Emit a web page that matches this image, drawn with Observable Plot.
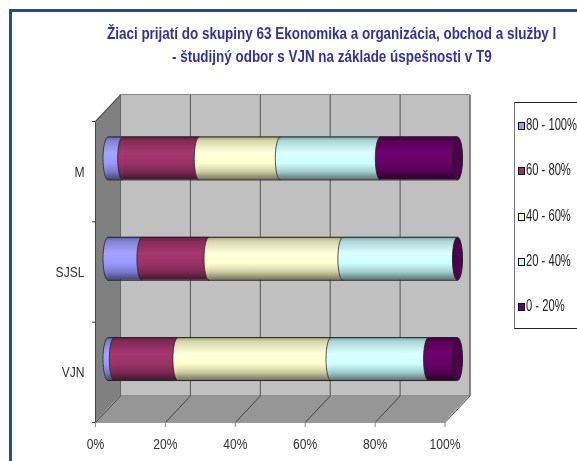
<!DOCTYPE html>
<html>
<head>
<meta charset="utf-8">
<script src="https://cdn.jsdelivr.net/npm/d3@7"></script>
<script src="https://cdn.jsdelivr.net/npm/@observablehq/plot@0.6"></script>
<style>
html,body{margin:0;padding:0;background:#fff;overflow:hidden}
#page{position:relative;width:577px;height:461px;overflow:hidden;font-family:"Liberation Sans",Arial,sans-serif;filter:blur(0.35px)}
#frame{position:absolute;left:9px;top:9px;width:700px;height:600px;border:3px solid #1f4f8f;box-sizing:border-box}
.tl{position:absolute;white-space:nowrap;color:#333399;font-weight:bold;font-size:16px;line-height:24px;transform-origin:0 50%}
#legend{position:absolute;left:514px;top:102px;width:100px;height:227px;border:1px solid #222;border-left-color:#777;box-sizing:border-box;background:#fff}
.row{position:absolute;left:3px;color:#222;font-size:16px;line-height:16px;white-space:nowrap}
.sw{position:absolute;left:0;top:5px;width:5px;height:6px;border:1px solid #111;box-sizing:content-box}
.lt{position:absolute;left:8px;top:0;transform-origin:0 50%;transform:scaleX(.7)}
svg{position:absolute;left:0;top:0}
</style>
</head>
<body>
<div id="page">
  <div id="frame"></div>
  <div id="chart"></div>
  <div id="title"></div>
  <div id="legend"></div>
</div>
<script>
const titleLines = ["Žiaci prijatí do skupiny 63 Ekonomika a organizácia, obchod a služby I", "- študijný odbor s VJN na základe úspešnosti v T9"];
const categories = ["VJN", "SJSL", "M"];
const seriesNames = ["80 - 100%", "60 - 80%", "40 - 60%", "20 - 40%", "0 - 20%"];
const seriesColors = ["#9999ff", "#993366", "#ffffcc", "#ccffff", "#660066"];
const values8090 = [1.8, 9.7, 4.2];
const values6080 = [18.2, 19.2, 21.9];
const values4060 = [43.8, 38.3, 23.2];
const values2040 = [27.9, 32.8, 28.6];
const values0020 = [8.3, 0, 22.1];
const seriesValues = [values8090, values6080, values4060, values2040, values0020];
const xTicks = [0, 20, 40, 60, 80, 100];

// depth of the 3-D box, in data units of each axis
const depthX = 7.16, depthY = 0.264, barHalf = 0.214;
const midX = depthX / 2, midY = depthY / 2;

// segments, stacked per category
const segments = seriesNames.map((name, s) => categories.map((c, i) => {
  const start = d3.sum(seriesValues.slice(0, s), v => v[i]);
  return {i, name, x1: start + midX, x2: start + seriesValues[s][i] + midX,
          y: i + 0.5 + midY, y1: i + 0.5 + midY - barHalf, y2: i + 0.5 + midY + barHalf};
}).filter(d => d.x2 > d.x1));

const K = 0.5523, RX = 5, RY = 21.5;
const leftCap = {draw(ctx) {
  ctx.moveTo(0, -RY);
  ctx.bezierCurveTo(-RX * K, -RY, -RX, -RY * K, -RX, 0);
  ctx.bezierCurveTo(-RX, RY * K, -RX * K, RY, 0, RY);
}};
const fullCap = {draw(ctx) {
  ctx.moveTo(0, -RY);
  ctx.bezierCurveTo(-RX * K, -RY, -RX, -RY * K, -RX, 0);
  ctx.bezierCurveTo(-RX, RY * K, -RX * K, RY, 0, RY);
  ctx.bezierCurveTo(RX * K, RY, RX, RY * K, RX, 0);
  ctx.bezierCurveTo(RX, -RY * K, RX * K, -RY, 0, -RY);
  ctx.closePath();
}};

function gradients() {
  const ns = "http://www.w3.org/2000/svg";
  const defs = document.createElementNS(ns, "defs");
  const stops = [[0, .62], [.1, .84], [.38, 1.08], [.62, 1], [.82, .8], [1, .45]];
  seriesColors.forEach((col, s) => {
    const g = document.createElementNS(ns, "linearGradient");
    g.setAttribute("id", "g" + s);
    g.setAttribute("x1", 0); g.setAttribute("y1", 0);
    g.setAttribute("x2", 0); g.setAttribute("y2", 1);
    const base = d3.rgb(col);
    stops.forEach(([o, f]) => {
      const st = document.createElementNS(ns, "stop");
      st.setAttribute("offset", o);
      st.setAttribute("stop-color", d3.rgb(Math.min(255, base.r * f), Math.min(255, base.g * f), Math.min(255, base.b * f)).formatRgb());
      g.appendChild(st);
    });
    defs.appendChild(g);
  });
  return defs;
}

const chart = Plot.plot({
  width: 577, height: 461,
  marginLeft: 95, marginRight: 132.5, marginTop: 121, marginBottom: 39,
  x: {domain: [0, 100]},
  y: {domain: [0, 3]},
  style: {background: "transparent", fontFamily: '"Liberation Sans",Arial,sans-serif'},
  marks: [
    gradients,
    // back wall
    Plot.rect([0], {x1: depthX, x2: 100 + depthX, y1: depthY, y2: 3 + depthY, fill: "#c0c0c0", stroke: "#8a8a8a"}),
    // left wall
    Plot.areaY([{x: 0, a: 0, b: 3}, {x: depthX, a: depthY, b: 3 + depthY}], {x: "x", y1: "a", y2: "b", fill: "#808080"}),
    // floor
    Plot.areaX([{y: 0, a: 0, b: 100}, {y: depthY, a: depthX, b: 100 + depthX}], {y: "y", x1: "a", x2: "b", fill: "#969696"}),
    // grid on back wall and floor
    Plot.link(xTicks.slice(1), {x1: d => d + depthX, x2: d => d + depthX, y1: depthY, y2: 3 + depthY, stroke: "#555", strokeWidth: 1}),
    Plot.link(xTicks, {x1: d => d, x2: d => d + depthX, y1: 0, y2: depthY, stroke: "#444", strokeWidth: 1}),
    Plot.link([0], {x1: 100 + depthX, x2: 100 + depthX, y1: depthY, y2: 3 + depthY, stroke: "#808080", strokeWidth: 1.5}),
    Plot.link([0], {x1: 0, x2: 100, y1: 0, y2: 0, stroke: "#999", strokeWidth: 1}),
    Plot.link([0], {x1: 0, x2: 0, y1: 0, y2: 3, stroke: "#444", strokeWidth: 1}),
    Plot.link([0], {x1: 0, x2: depthX, y1: 3, y2: 3 + depthY, stroke: "#444", strokeWidth: 1}),
    Plot.link([0], {x1: depthX, x2: depthX, y1: depthY, y2: 3 + depthY, stroke: "#666", strokeWidth: 1}),
    // cylinders
    ...segments.flatMap((data, s) => [
      Plot.rect(data, {x1: "x1", x2: "x2", y1: "y1", y2: "y2", fill: `url(#g${s})`}),
      Plot.dot(data, {x: "x1", y: "y", symbol: leftCap, r: 1, fill: `url(#g${s})`, stroke: "#222", strokeOpacity: 0.75, strokeWidth: 1})
    ]),
    Plot.link(categories, {x1: midX, x2: 100 + midX, y1: (d, i) => i + .5 + midY + barHalf, y2: (d, i) => i + .5 + midY + barHalf, stroke: "#222", strokeWidth: 1}),
    Plot.link(categories, {x1: midX, x2: 100 + midX, y1: (d, i) => i + .5 + midY - barHalf, y2: (d, i) => i + .5 + midY - barHalf, stroke: "#222", strokeWidth: 1}),
    Plot.dot(categories, {x: 100 + midX, y: (d, i) => i + .5 + midY, symbol: fullCap, r: 1, fill: "#4d004d", stroke: "#222", strokeWidth: 1}),
    // axes
    Plot.axisX(xTicks, {tickSize: 5, tickPadding: 10, tickFormat: d => d + "%", fontSize: 15.5, stroke: "#888", fill: "#333", label: null}),
    Plot.axisY([0, 1, 2, 3], {tickSize: 3, tickFormat: () => "", stroke: "#333", label: null}),
    Plot.axisY([.5, 1.5, 2.5], {tickSize: 0, tickPadding: 11, tickFormat: d => categories[d - .5], fontSize: 15.5, fill: "#333", label: null})
  ]
});
document.getElementById("chart").appendChild(chart);

// the reference uses a condensed sans: narrow the text without changing its height
chart.querySelectorAll("text").forEach(t => {
  const len = t.getComputedTextLength();
  if (len > 0) {
    t.setAttribute("lengthAdjust", "spacingAndGlyphs");
    t.setAttribute("textLength", len * 0.78);
  }
});

// title lines, fitted to their measured extent
const titleBox = document.getElementById("title");
const titleFit = [{left: 107, width: 449, top: 22}, {left: 172, width: 320, top: 45}];
titleLines.forEach((txt, i) => {
  const el = document.createElement("div");
  el.className = "tl";
  el.textContent = txt;
  el.style.left = titleFit[i].left + "px";
  el.style.top = titleFit[i].top + "px";
  titleBox.appendChild(el);
  el.style.transform = `scaleX(${titleFit[i].width / el.offsetWidth})`;
});

const legend = document.getElementById("legend");
seriesNames.forEach((n, s) => {
  const row = document.createElement("div");
  row.className = "row";
  row.style.top = (14 + s * 45.3) + "px";
  row.innerHTML = `<span class="sw" style="background:${seriesColors[s]}"></span><span class="lt">${n}</span>`;
  legend.appendChild(row);
});
</script>
</body>
</html>
